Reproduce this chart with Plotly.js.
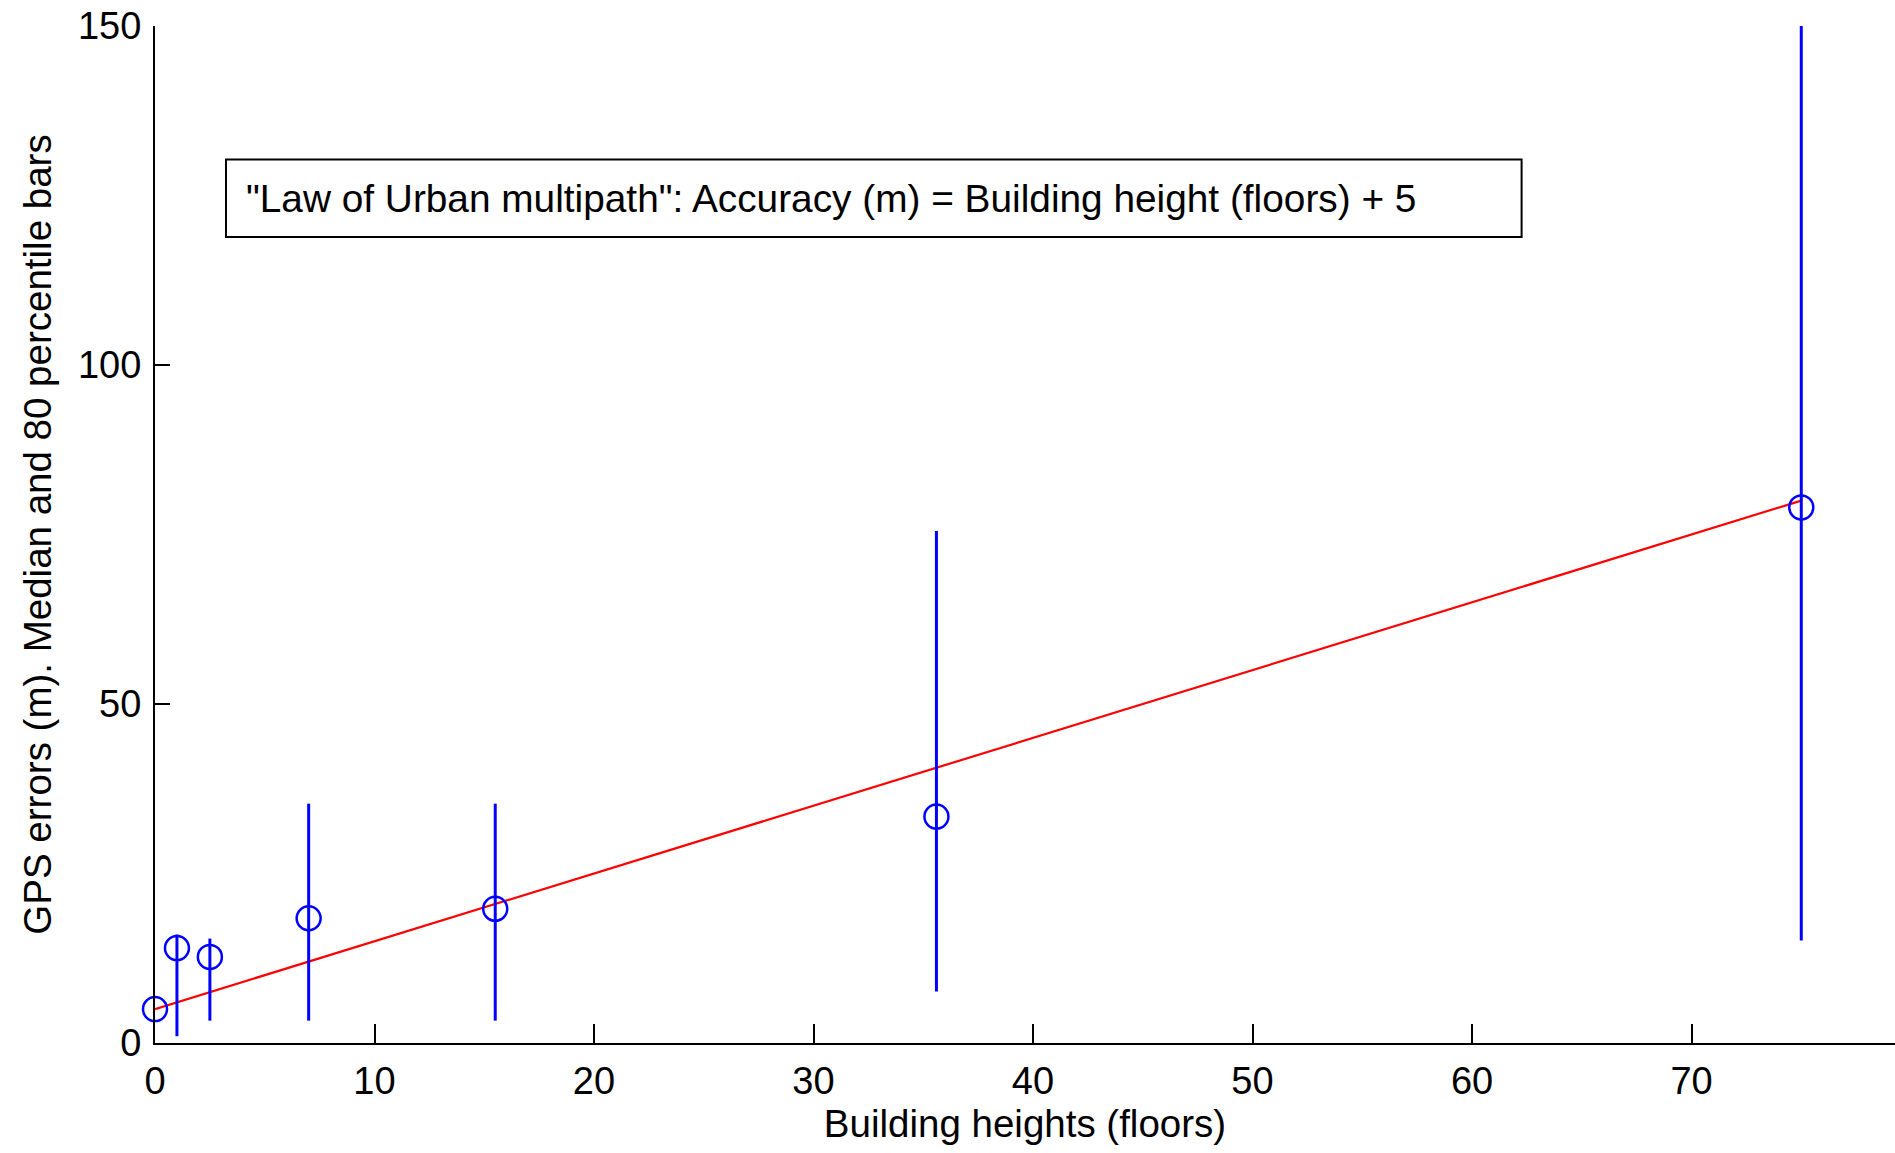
<!DOCTYPE html>
<html>
<head>
<meta charset="utf-8">
<script src="https://cdn.plot.ly/plotly-3.0.1.min.js"></script>
<style>html,body{margin:0;padding:0;background:#fff;}#chart{width:1895px;height:1153px;}</style>
</head>
<body>
<div id="chart"></div>
<script>
// Data
const heights = [0, 1, 2.5, 7, 15.5, 35.6, 75];
const medianErr = [5, 14, 12.7, 18.4, 19.8, 33.4, 79];
const pct80High = [5, 16, 15.4, 35.3, 35.3, 75.5, 150];
const pctLow = [5, 1, 3.3, 3.3, 3.3, 7.6, 15.1];
const fitX = [0, 75];
const fitY = fitX.map(v => v + 5); // "Law": accuracy = floors + 5
const xTicks = [0, 10, 20, 30, 40, 50, 60, 70];
const yTicks = [0, 50, 100, 150];

const FONT = "'Liberation Sans Narrow', 'Arial Narrow', 'Liberation Sans', Arial, sans-serif";

const errPlus = pct80High.map((v, i) => v - medianErr[i]);
const errMinus = medianErr.map((v, i) => v - pctLow[i]);

const traces = [
  {
    x: fitX, y: fitY, type: 'scatter', mode: 'lines',
    line: {color: '#ff0000', width: 2.2}, hoverinfo: 'skip', showlegend: false
  },
  {
    x: heights, y: medianErr, type: 'scatter', mode: 'markers',
    marker: {symbol: 'circle-open', size: 24, color: '#0000ff', line: {color: '#0000ff', width: 2.5}},
    error_y: {type: 'data', symmetric: false, array: errPlus, arrayminus: errMinus,
              color: '#0000ff', thickness: 3, width: 0},
    cliponaxis: false, showlegend: false
  }
];

const layout = {
  width: 1895, height: 1153,
  margin: {l: 155, r: 0, t: 26, b: 110},
  paper_bgcolor: '#ffffff', plot_bgcolor: '#ffffff',
  font: {family: FONT, size: 38, color: '#000000'},
  showlegend: false,
  xaxis: {
    range: [0, 79.27], tickvals: xTicks, ticktext: xTicks.map(String),
    ticks: 'inside', ticklen: 19, tickwidth: 2, tickcolor: '#000',
    showline: true, linecolor: '#000', linewidth: 2, mirror: false,
    showgrid: false, zeroline: false,
    tickfont: {family: FONT, size: 38, color: '#000'},
    ticklabelstandoff: 3,
    title: {text: 'Building heights (floors)', font: {family: FONT, size: 38.5, color: '#000'}, standoff: 8}
  },
  yaxis: {
    range: [0, 150], tickvals: yTicks, ticktext: yTicks.map(String),
    ticks: 'inside', ticklen: 15, tickwidth: 2, tickcolor: '#000',
    showline: true, linecolor: '#000', linewidth: 2, mirror: false,
    showgrid: false, zeroline: false,
    tickfont: {family: FONT, size: 38, color: '#000'},
    ticklabelstandoff: 4,
    title: {text: 'GPS errors (m). Median and 80 percentile bars', font: {family: FONT, size: 38.5, color: '#000'}, standoff: 15}
  },
  shapes: [
    {type: 'rect', xref: 'paper', yref: 'paper', x0: 0.0408, x1: 0.7854, y0: 0.7925, y1: 0.8687,
     line: {color: '#000', width: 2}, fillcolor: 'rgba(0,0,0,0)', layer: 'above'}
  ],
  annotations: [
    {xref: 'paper', yref: 'paper', x: 0.0511, y: 0.830, xanchor: 'left', yanchor: 'middle',
     text: '"Law of Urban multipath": Accuracy (m) = Building height (floors) + 5',
     showarrow: false, font: {family: FONT, size: 38.8, color: '#000'}}
  ]
};

Plotly.newPlot('chart', traces, layout, {displayModeBar: false, staticPlot: true});
</script>
</body>
</html>
